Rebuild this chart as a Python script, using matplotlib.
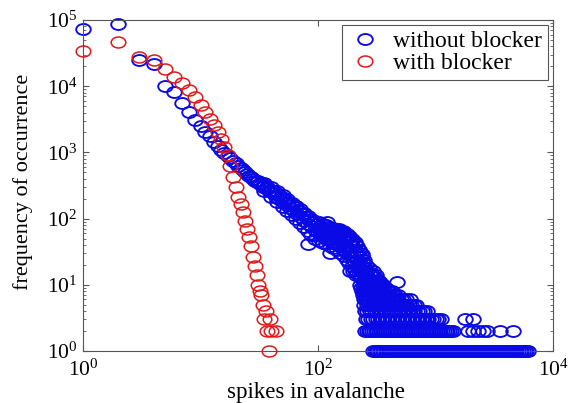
import numpy as np
import matplotlib
matplotlib.use("Agg")
import matplotlib.pyplot as plt
from matplotlib.path import Path
from matplotlib.transforms import Affine2D

plt.rcParams['font.family'] = ['Liberation Serif', 'DejaVu Serif']
plt.rcParams['mathtext.fontset'] = 'custom'
plt.rcParams['mathtext.rm'] = 'Liberation Serif'
plt.rcParams['mathtext.it'] = 'Liberation Serif:italic'

# avalanche size histogram, without blocker
blue_head_x = list(range(1, 31))
blue_head_y = [73000, 87000, 25000, 21500, 10000, 8300, 5500, 4100, 3100, 2500,
               2050, 1750, 1450, 1250, 1100, 970, 880, 810, 740, 680,
               620, 580, 540, 500, 470, 440, 420, 395, 375, 355]

blue_band_x = [31, 32, 33, 34, 35, 36, 37, 38, 40, 41, 43, 44, 46, 47, 49, 51, 52, 54, 56, 58,
               60, 62, 64, 66, 69, 71, 74, 76, 79, 82, 84, 87, 90, 94, 97, 100, 104, 107, 111, 115,
               119, 123, 127, 132, 136, 141, 146, 151, 157, 162, 168, 174, 180, 186, 193, 200, 207, 214, 222, 230,
               238, 246]
blue_band_y = [365, 330, 340, 305, 320, 285, 300, 265, 270, 240, 250, 215, 230, 195, 210, 175, 190, 160, 178, 145,
               160, 132, 148, 118, 130, 105, 116, 93, 104, 84, 96, 76, 88, 68, 82, 62, 76, 58, 72, 54,
               70, 51, 67, 48, 64, 45, 62, 42, 59, 39, 56, 36, 51, 32, 46, 28, 41, 24, 34, 20,
               27, 16]

blue_mid_x = [102, 106, 113, 117, 121, 125, 130, 134, 139, 143, 149, 154, 160, 165, 171, 177, 183, 190,
              196, 203, 210, 218, 226, 234, 242]
blue_mid_y = [70, 55, 66, 50, 63, 47, 60, 44, 58, 41, 56, 38, 52, 34, 49, 30, 44, 27,
              38, 23, 32, 20, 26, 17, 21]

# upper and lower rims of the scattered band
blue_rim_x = [35, 40, 45, 50, 55, 60, 65, 70, 76, 82, 88, 95, 102, 110, 118, 126, 135, 145, 155, 165,
              175, 185, 195, 205, 215, 225, 235, 245]
blue_upper_y = [350, 300, 260, 225, 195, 175, 155, 138, 122, 110, 100, 93, 88, 83, 79, 75, 72, 69, 66, 62,
                58, 54, 49, 44, 39, 34, 29, 24]
blue_lower_y = [260, 215, 180, 152, 130, 112, 98, 85, 74, 64, 56, 50, 46, 43, 41, 39, 36, 33, 30, 27,
                24, 21, 19, 17, 15, 14, 13, 12]

blue_extra_x = [163, 150, 120, 82, 126, 188, 470, 610,
                240, 250, 256, 262, 268, 275, 282, 290, 298, 305, 315, 245, 236, 228,
                220, 212, 205, 198, 258, 270, 280, 292, 310, 325, 340]
blue_extra_y = [66, 70, 88, 42, 30, 16, 11, 6,
                22, 18, 14, 16, 12, 14, 11, 12, 11, 13, 11, 12, 17, 13,
                20, 14, 22, 16, 20, 18, 15, 16, 14, 12, 11]

# sizes that occurred a given (small) number of times
seen_1 = [295, 303, 310, 318, 327, 336, 345, 356, 367, 378, 390, 402, 414, 427, 441, 455, 470, 485, 501, 517,
          534, 551, 569, 588, 607, 627, 647, 668, 690, 712, 735, 759, 784, 810, 836, 863, 891, 920, 950, 981,
          1013, 1046, 1080, 1115, 1151, 1189, 1228, 1268, 1309, 1352, 1396, 1441, 1488, 1537, 1587, 1639, 1692,
          1747, 1804, 1863, 1924, 1987, 2052, 2119, 2188, 2259, 2333, 2409, 2488, 2569, 2653, 2740, 2829, 2921,
          3016, 3115, 3216, 3321, 3430, 3542, 3657, 3777, 3900, 4027, 4159, 4295, 4435, 4580, 4729, 4884, 5043,
          5208, 5378, 5554, 5735, 5923, 6116]
seen_2 = [252, 261, 270, 279, 289, 299, 309, 320, 331, 343, 355, 367, 380, 393, 407, 421, 436, 451, 467, 483,
          500, 517, 535, 554, 573, 593, 614, 636, 658, 681, 705, 729, 755, 781, 808, 837, 866, 896, 927, 960,
          993, 1028, 1064, 1101, 1140, 1180, 1221, 1263, 1308, 1353, 1400,
          1900, 2090, 2300, 2530, 2750, 3550, 4570]
seen_3 = [255, 268, 281, 295, 310, 326, 342, 359, 377, 396, 416, 437, 459, 482, 506, 531, 558, 586, 615, 646,
          678, 712, 748, 785, 824, 865, 908, 953, 1001, 1051, 1104, 1780, 2090]
seen_4 = [250, 262, 275, 289, 303, 318, 334, 351, 369, 387, 406, 426, 447, 469, 492, 517, 543, 570, 598, 628,
          659, 692, 727, 763, 801, 841]
seen_5 = [248, 260, 273, 287, 301, 316, 332, 349, 366, 384, 403, 423, 444, 466, 489, 513, 539, 566, 594, 624,
          655, 688]
seen_6 = [244, 256, 269, 282, 296, 311, 327, 343, 360, 378, 397, 417, 438, 460, 483, 507, 532, 559]
seen_7 = [240, 252, 265, 278, 292, 307, 322, 338, 355, 373, 392, 411, 432, 454, 476]
seen_8 = [236, 248, 260, 273, 287, 301, 316, 332, 349, 366, 385, 404, 424]
seen_9 = [232, 244, 256, 269, 282, 296, 311, 327, 343, 360, 378]
seen_10 = [228, 240, 252, 265, 278, 292, 307, 322, 338, 355]

# with blocker
red_x = list(range(1, 41)) + [44]
red_y = [34000, 47000, 28000, 25000, 18500, 14000, 11000, 8800, 6800, 5200,
         4100, 3200, 2600, 2000, 1600, 1200, 900, 620, 430, 300,
         215, 165, 125, 92, 70, 52, 38, 26, 19, 14,
         10, 8, 7, 5, 3, 4, 2, 1, 3, 2, 2]

blue_x = blue_head_x + blue_band_x + blue_mid_x + blue_rim_x + blue_rim_x + blue_extra_x
blue_y = blue_head_y + blue_band_y + blue_mid_y + blue_upper_y + blue_lower_y + blue_extra_y
for n, sizes in enumerate([seen_1, seen_2, seen_3, seen_4, seen_5, seen_6, seen_7, seen_8, seen_9, seen_10], 1):
    blue_x += sizes
    blue_y += [n] * len(sizes)

ellipse = Path.unit_circle().transformed(Affine2D().scale(1.33, 1.0))

fig = plt.figure(figsize=(5.72, 4.03), dpi=100)
ax = fig.add_axes([83 / 572, 52 / 403, 470 / 572, 331 / 403])

ax.plot(blue_x, blue_y, linestyle='none', marker=ellipse, markersize=10.5,
        markerfacecolor='none', markeredgecolor='#0a0ae6', markeredgewidth=1.35,
        clip_on=False, label='without blocker')
ax.plot(red_x, red_y, linestyle='none', marker=ellipse, markersize=10.5,
        markerfacecolor='none', markeredgecolor='#e01818', markeredgewidth=1.1,
        clip_on=False, label='with blocker')

ax.set_xscale('log')
ax.set_yscale('log')
ax.set_xlim(1, 1e4)
ax.set_ylim(1, 1e5)
ax.set_xticks([1, 100, 10000])
ax.xaxis.set_minor_locator(matplotlib.ticker.NullLocator())
ax.yaxis.set_major_locator(matplotlib.ticker.LogLocator(base=10, numticks=10))
ax.yaxis.set_minor_locator(matplotlib.ticker.LogLocator(base=10, subs=np.arange(2, 10), numticks=20))
ax.yaxis.set_minor_formatter(matplotlib.ticker.NullFormatter())

for s in ax.spines.values():
    s.set_color('#555555')
    s.set_linewidth(0.8)
ax.tick_params(which='both', direction='in', top=True, right=True, colors='#555555',
               labelcolor='black', labelsize=15.5)
ax.tick_params(which='major', length=4)
ax.tick_params(axis='y', which='major', pad=4)
ax.tick_params(axis='x', which='major', pad=6.5)
ax.tick_params(which='minor', length=2.5)

ax.set_xlabel('spikes in avalanche', fontsize=16.5)
ax.set_ylabel('frequency of occurrence', fontsize=16)
ax.xaxis.set_label_coords(0.496, -0.093)
ax.yaxis.set_label_coords(-0.107, 0.51)

leg = ax.legend(loc='upper right', bbox_to_anchor=(1 - 5 / 470, 1 - 5 / 331), borderaxespad=0,
                fontsize=17, numpoints=1, handlelength=1.4, handletextpad=0.5, borderpad=0.25,
                labelspacing=0.0, fancybox=False, framealpha=1)
leg.get_frame().set_edgecolor('#555555')
leg.get_frame().set_linewidth(0.8)

plt.savefig('out.png', dpi=100)
plt.close(fig)
